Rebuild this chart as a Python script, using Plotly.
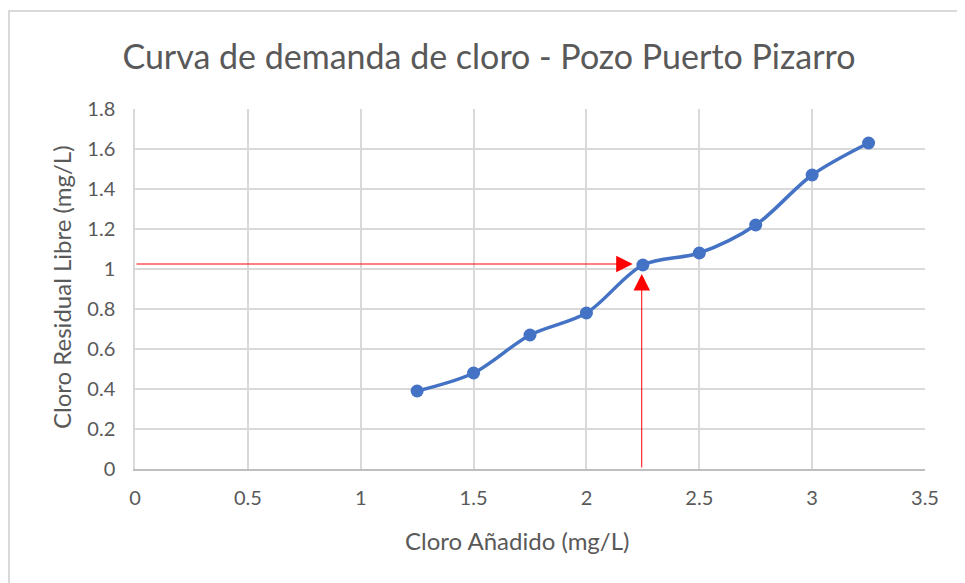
import plotly.graph_objects as go

cloro_anadido = [1.25, 1.5, 1.75, 2.0, 2.25, 2.5, 2.75, 3.0, 3.25]
cloro_residual = [0.39, 0.48, 0.67, 0.78, 1.02, 1.08, 1.22, 1.47, 1.63]

x_ticks = [0, 0.5, 1, 1.5, 2, 2.5, 3, 3.5]
x_tick_labels = ["0", "0.5", "1", "1.5", "2", "2.5", "3", "3.5"]
y_ticks = [0, 0.2, 0.4, 0.6, 0.8, 1.0, 1.2, 1.4, 1.6, 1.8]
y_tick_labels = ["0", "0.2", "0.4", "0.6", "0.8", "1", "1.2", "1.4", "1.6", "1.8"]

# red guide arrows: (start_x, start_y) -> (end_x, end_y)
arrow_h = [0.0, 1.025, 2.205, 1.025]
arrow_v = [2.245, 0.0, 2.245, 0.975]

FONT = "Lato, Noto Sans, sans-serif"
TXT = "#595959"

# plot area geometry in figure pixels (used to place titles in paper coords)
L, R, T, B = 127, 48, 101, 122
W, H = 965, 583
PW, PH = W - L - R, H - T - B

fig = go.Figure()
fig.add_trace(go.Scatter(
    x=cloro_anadido, y=cloro_residual, mode="lines+markers",
    line=dict(color="#4472C4", width=3.5, shape="spline", smoothing=0.9),
    marker=dict(color="#4472C4", size=13),
    showlegend=False, hoverinfo="x+y",
))

for a in (arrow_h, arrow_v):
    fig.add_annotation(
        x=a[2], y=a[3], ax=a[0], ay=a[1], xref="x", yref="y", axref="x", ayref="y",
        text="", showarrow=True, arrowhead=2, arrowsize=3.3, arrowwidth=1,
        arrowcolor="#FF0000", standoff=0, startstandoff=0,
    )

# axis titles
fig.add_annotation(text="Cloro Añadido (mg/L)", xref="paper", yref="paper",
                   x=(509 - L) / PW, y=(H - B - 532) / PH, xanchor="center", yanchor="middle",
                   showarrow=False, font=dict(size=24, color=TXT, family=FONT))
fig.add_annotation(text="Cloro Residual Libre (mg/L)", xref="paper", yref="paper",
                   x=(53 - L) / PW, y=(H - B - 279) / PH, xanchor="center", yanchor="middle",
                   textangle=-90, showarrow=False, font=dict(size=24, color=TXT, family=FONT))

# outer chart frame
fig.add_shape(type="rect", xref="paper", yref="paper",
              x0=-0.1595, y0=-0.45, x1=1.2, y1=1.272,
              line=dict(color="#D9D9D9", width=2), fillcolor="rgba(0,0,0,0)", layer="below")

fig.update_layout(
    width=W, height=H,
    margin=dict(l=L, r=R, t=T, b=B),
    paper_bgcolor="white", plot_bgcolor="white",
    font=dict(family=FONT, color=TXT, size=20),
    title=dict(text="Curva de demanda de cloro - Pozo Puerto Pizarro",
               x=481 / W, xanchor="center", y=1 - 49 / H, yanchor="middle",
               font=dict(size=34, color=TXT, family=FONT)),
    xaxis=dict(range=[0, 3.5], tickvals=x_ticks, ticktext=x_tick_labels,
               showgrid=True, gridcolor="#D9D9D9", gridwidth=1.5,
               showline=True, linecolor="#BFBFBF", linewidth=2, mirror=False,
               zeroline=False, ticks="", ticklabelstandoff=10,
               tickfont=dict(size=20, color=TXT), fixedrange=True),
    yaxis=dict(range=[0, 1.8], tickvals=y_ticks, ticktext=y_tick_labels,
               showgrid=True, gridcolor="#D9D9D9", gridwidth=1.5,
               showline=True, linecolor="#D9D9D9", linewidth=1.5,
               zeroline=False, ticks="", ticklabelstandoff=14,
               tickfont=dict(size=20, color=TXT), fixedrange=True),
)
fig.write_html("out.html")
